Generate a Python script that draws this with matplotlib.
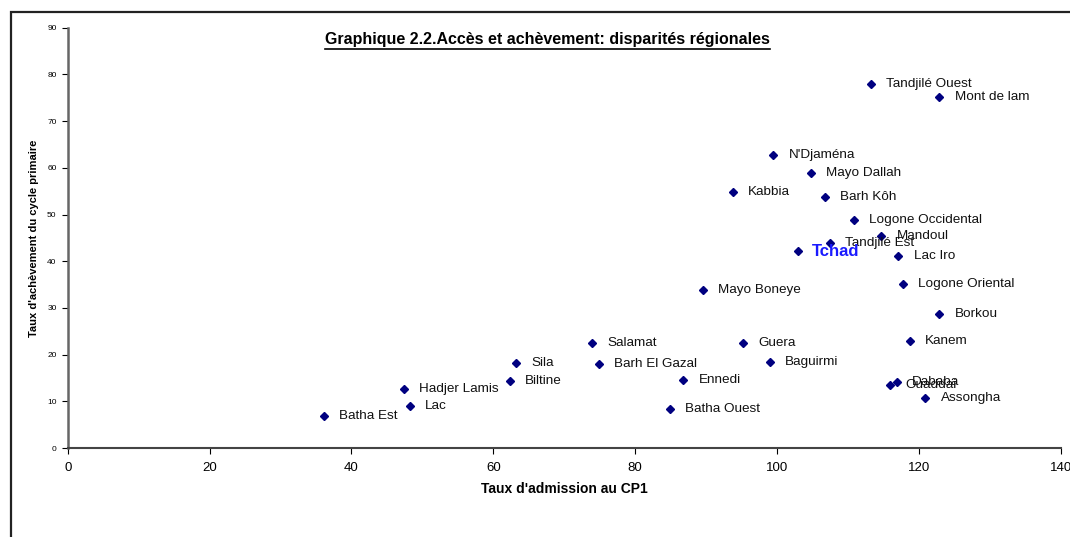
import matplotlib
matplotlib.use("Agg")
import matplotlib.pyplot as plt
from matplotlib.lines import Line2D
from matplotlib.patches import Rectangle

plt.rcParams['font.family'] = ['Liberation Sans', 'DejaVu Sans']

# %% Data
regions = ["Batha Est", "Hadjer Lamis", "Lac", "Sila", "Biltine", "Salamat",
           "Barh El Gazal", "Ennedi", "Batha Ouest", "Guera", "Baguirmi",
           "Borkou", "Kanem", "Dababa", "Ouaddai", "Assongha",
           "Tandjilé Ouest", "Mont de lam", "N'Djaména", "Mayo Dallah",
           "Kabbia", "Barh Kôh", "Logone Occidental", "Mandoul",
           "Tandjilé Est", "Lac Iro", "Logone Oriental", "Mayo Boneye"]
admission = [36.1, 47.4, 48.2, 63.2, 62.3, 73.9, 74.9, 86.8, 84.9, 95.2, 99.0,
             122.9, 118.7, 116.9, 115.9, 120.9, 113.2, 122.9, 99.5, 104.8,
             93.8, 106.7, 110.8, 114.7, 107.5, 117.1, 117.7, 89.5]
achevement = [6.9, 12.6, 9.0, 18.1, 14.4, 22.4, 18.0, 14.5, 8.3, 22.4, 18.4,
              28.8, 23.0, 14.2, 13.4, 10.8, 78.0, 75.1, 62.8, 58.8,
              54.8, 53.7, 48.9, 45.3, 44.0, 41.1, 35.1, 33.9]
national_label = "Tchad"
national_x = 103.0
national_y = 42.1

# %% Plot
fig = plt.figure(figsize=(10.7, 5.37), dpi=100)
ax = fig.add_axes([0.0633, 0.1657, 0.928, 0.7827])

ax.plot(admission, achevement, 'D', color='#000080', markersize=4.5)
ax.plot([national_x], [national_y], 'D', color='#000080', markersize=4.5)

for name, x, y in zip(regions, admission, achevement):
    ax.annotate(name, (x, y), xytext=(11, 0), textcoords='offset points',
                va='center', ha='left', fontsize=9.7, color='#111111')
ax.annotate(national_label, (national_x, national_y), xytext=(10, 0),
            textcoords='offset points', va='center', ha='left',
            fontsize=12, fontweight='bold', color='#1a1aff')

ax.set_xlim(0, 140)
ax.set_ylim(0, 90)
ax.set_xticks(range(0, 141, 20))
ax.set_yticks(range(0, 91, 10))
ax.tick_params(axis='x', labelsize=9.5, length=4, direction='out', pad=6)
ax.tick_params(axis='y', labelsize=6, length=4, direction='out', pad=4)
for s in ['top', 'right']:
    ax.spines[s].set_visible(False)
ax.spines['left'].set_color('#666666')
ax.spines['left'].set_linewidth(1.8)
ax.spines['bottom'].set_color('#444444')
ax.spines['bottom'].set_linewidth(1.5)

ax.set_xlabel("Taux d'admission au CP1", fontsize=10, fontweight='bold', labelpad=6)
ax.set_ylabel("Taux d'achèvement du cycle primaire", fontsize=8,
              fontweight='bold', labelpad=6)

title = fig.text(0.512, 0.927,
                 "Graphique 2.2.Accès et achèvement: disparités régionales",
                 ha='center', va='center', fontsize=11.5, fontweight='bold')

# underline the title
fig.canvas.draw()
bb = title.get_window_extent().transformed(fig.transFigure.inverted())
fig.add_artist(Line2D([bb.x0, bb.x1], [bb.y0 - 0.004, bb.y0 - 0.004],
                      transform=fig.transFigure, color='black', lw=1.2))

# outer frame (extends past right/bottom edges)
fig.add_artist(Rectangle((11 / 1070, -0.2), 1.2, 0.2 + (1 - 12 / 537),
                         transform=fig.transFigure, fill=False,
                         edgecolor='#222222', lw=1.6, clip_on=False))

fig.savefig("out.png", dpi=100)
